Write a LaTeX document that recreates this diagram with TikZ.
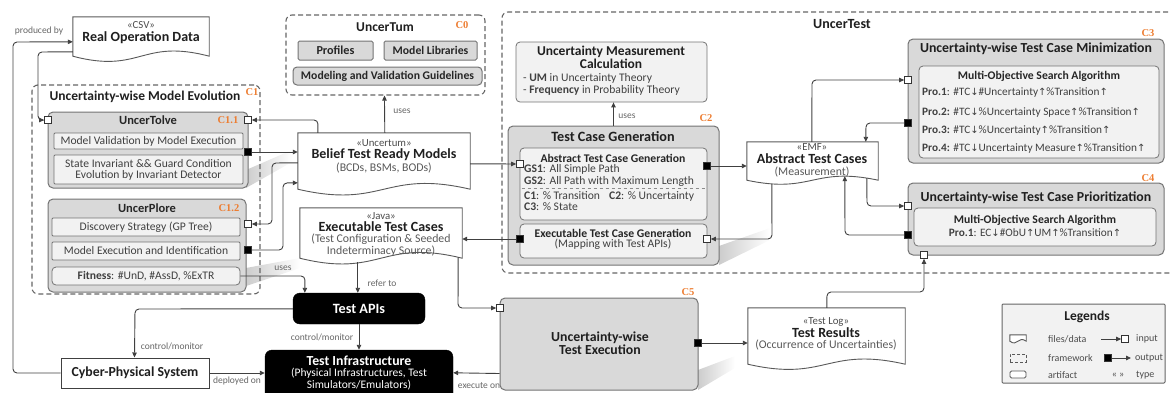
\documentclass[tikz,border=0pt]{standalone}
\usepackage{fontspec}
\setmainfont{Carlito}
\newfontfamily\arrowfont[Scale=0.88]{DejaVu Sans}
\newfontfamily\tagserif{Liberation Serif}
\usetikzlibrary{arrows.meta,calc,fit}

\definecolor{tagorange}{HTML}{ED7D31}
\newcommand\arrU{{\arrowfont ↑}}
\newcommand\arrD{{\arrowfont ↓}}
% document outline with a wavy bottom edge, drawn around a named node
\newcommand\drawdoc[2]{%
  \draw[docline] (#1.north west) -- (#1.north east) -- (#1.south east)
    .. controls ($(#1.south)+(0,-#2)$) and ($(#1.south)+(0,#2)$) .. (#1.south west) -- cycle;}

\tikzset{
  fw/.style={draw=black!60, dash pattern=on 5pt off 3pt, line width=1.1pt, rounded corners=6pt, inner sep=0pt},
  comp/.style={draw=black!55, fill=black!15, line width=1pt, rounded corners=5pt, inner sep=0pt},
  cellbox/.style={draw=black!55, fill=black!5, line width=0.8pt, inner sep=0pt, rounded corners=1pt},
  cellround/.style={cellbox, rounded corners=4pt},
  docnode/.style={inner sep=0pt},
  docline/.style={draw=black!65, fill=white, line width=0.9pt},
  artifact/.style={draw=black!75, fill=white, line width=1pt, inner sep=0pt},
  darkbox/.style={draw=black, fill=black, rounded corners=7pt, inner sep=0pt},
  inport/.style={draw=black!80, fill=white, minimum size=7pt, inner sep=0pt, line width=0.7pt},
  outport/.style={inport, fill=black},
  link/.style={draw=black!75, line width=0.9pt, rounded corners=4pt, -{Triangle[length=5pt,width=4.5pt]}},
  softshadow/.style={left color=black!20, right color=white, draw=none},
  headline/.style={font=\bfseries\fontsize{13.8}{14}\selectfont, text=black!88, inner sep=0pt},
  frametitle/.style={font=\bfseries\fontsize{14}{15}\selectfont, text=black!88, inner sep=0pt},
  doctitle/.style={font=\bfseries\fontsize{14}{15}\selectfont, text=black!88, inner sep=0pt},
  midtitle/.style={font=\bfseries\fontsize{11.7}{12}\selectfont, text=black!85, inner sep=0pt},
  celltext/.style={font=\fontsize{11.6}{11}\selectfont, text=black!75, inner sep=0pt, align=center},
  stereotype/.style={font=\fontsize{10.8}{11}\selectfont, text=black!70, inner sep=0pt},
  subtext/.style={font=\fontsize{11.8}{11.5}\selectfont, text=black!65, inner sep=0pt, align=center},
  edgelabel/.style={font=\fontsize{9.5}{10}\selectfont, text=black!60, inner sep=0pt},
  comptag/.style={font=\tagserif\bfseries\fontsize{10.5}{12}\selectfont, text=tagorange, inner sep=0pt},
  protext/.style={font=\fontsize{11.3}{11}\selectfont, text=black!75, inner sep=0pt, anchor=west},
  legtext/.style={font=\fontsize{10}{10}\selectfont, text=black!70, inner sep=0pt, anchor=west},
}

\begin{document}
\begin{tikzpicture}[x=1pt,y=-1pt]
\useasboundingbox (0,0) rectangle (1171,392);
\clip (0,0) rectangle (1171,392);

% ---------- soft slanted shadows behind component boxes ----------
\shade[softshadow] (246,170) -- (246,188) -- (292,162) -- (292,150) -- cycle;
\shade[softshadow] (246,268) -- (246,286) -- (300,268) -- (300,258) -- cycle;
\shade[softshadow] (719,246) -- (719,265) -- (770,240) -- (770,228) -- cycle;
\shade[softshadow] (698,370) -- (698,390) -- (735,368) -- (735,356) -- cycle;

% ---------- framework frames ----------
\node[fw, fit={(32,85) (260,294)}] (evo) {};
\node[fw, fit={(286,15) (485,95)}] (tum) {};
\node[fw, fit={(502,12) (1190,273)}] (utest) {};

% ---------- UncerTum (C0) ----------
\node[headline, font=\bfseries\fontsize{13.5}{14}\selectfont] (tumt) at (385,27) {UncerTum};
\node[comptag] (c0) at (462,25) {C0};
\node[comp, rounded corners=1.5pt, fit={(298,41) (373,60)}] (prof) {};
\node[midtitle, font=\bfseries\fontsize{12.2}{12}\selectfont] (proft) at (prof) {Profiles};
\node[comp, rounded corners=1.5pt, fit={(384,41) (477,60)}] (mlib) {};
\node[midtitle] (mlibt) at (mlib) {Model Libraries};
\node[comp, rounded corners=4pt, fit={(293,67) (482,85)}] (mvg) {};
\node[midtitle] (mvgt) at (mvg) {Modeling and Validation Guidelines};

% ---------- Uncertainty-wise Model Evolution (C1) ----------
\node[frametitle, font=\bfseries\fontsize{13.5}{14}\selectfont] (evot) at (145,97) {Uncertainty-wise Model Evolution};
\node[comptag] (c1) at (252,92) {C1};

\node[comp, fit={(48,112) (248,188)}] (tolve) {};
\node[midtitle, font=\bfseries\fontsize{12.5}{12}\selectfont] (tolvet) at (148,120) {UncerTolve};
\node[comptag] (c11) at (228,120) {C1.1};
\node[cellbox, fit={(54,133) (243,149)}] (mv) {};
\node[celltext] (mvt) at (mv) {Model Validation by Model Execution};
\node[cellbox, fit={(54,155) (243,184)}] (si) {};
\node[celltext] (sit) at (si) {State Invariant \&\& Guard Condition\\Evolution by Invariant Detector};

\node[comp, fit={(48,199) (246,292)}] (plore) {};
\node[midtitle, font=\bfseries\fontsize{12.5}{12}\selectfont] (ploret) at (147,208) {UncerPlore};
\node[comptag] (c12) at (229,208) {C1.2};
\node[cellbox, fit={(52,218) (240,236)}] (ds) {};
\node[celltext] (dst) at (ds) {Discovery Strategy (GP Tree)};
\node[cellbox, fit={(52,242) (240,260)}] (me) {};
\node[celltext] (met) at (me) {Model Execution and Identification};
\node[cellround, fit={(52,267) (240,285)}] (fitn) {};
\node[celltext] (fitnt) at (fitn) {\textbf{Fitness}: \#UnD, \#AssD, \%ExTR};

% ---------- documents ----------
\node[docnode, fit={(73,17) (209,56)}] (rod) {};
\drawdoc{rod}{18}
\node[stereotype] (rods) at (141,25) {«CSV»};
\node[doctitle] (rodt) at (141,38) {Real Operation Data};

\node[docnode, fit={(298,133) (470,189)}] (btrm) {};
\drawdoc{btrm}{20}
\node[stereotype] (btrms) at (384,143) {«Uncertum»};
\node[doctitle] (btrmt) at (384,155) {Belief Test Ready Models};
\node[subtext] (btrmsub) at (384,168) {(BCDs, BSMs, BODs)};

\node[docnode, fit={(300,208) (462,258)}] (etc) {};
\drawdoc{etc}{20}
\node[stereotype] (etcs) at (381,216) {«Java»};
\node[doctitle] (etct) at (381,227) {Executable Test Cases};
\node[subtext] (etcsub) at (381,245) {(Test Configuration \& Seeded\\Indeterminacy Source)};

\node[docnode, fit={(747,142) (878,180)}] (atc) {};
\drawdoc{atc}{14}
\node[stereotype] (atcs) at (812,147) {«EMF»};
\node[doctitle] (atct) at (812,159) {Abstract Test Cases};
\node[subtext] (atcsub) at (812,172) {(Measurement)};

\node[docnode, fit={(748,308) (905,364)}] (tr) {};
\drawdoc{tr}{18}
\node[stereotype] (trs) at (826,322) {«Test Log»};
\node[doctitle] (trt) at (826,333) {Test Results};
\node[subtext] (trsub) at (826,345) {(Occurrence of Uncertainties)};

% ---------- UncerTest ----------
\node[frametitle] (utestt) at (842,24) {UncerTest};

\node[cellbox, rounded corners=4pt, fit={(516,42) (707,102)}] (umc) {};
\node[headline, font=\bfseries\fontsize{13.5}{13}\selectfont] (umct1) at (611,52) {Uncertainty Measurement};
\node[headline, font=\bfseries\fontsize{13.5}{13}\selectfont] (umct2) at (611,64) {Calculation};
\node[celltext, anchor=west] (umc1) at (523,78) {- \textbf{UM} in Uncertainty Theory};
\node[celltext, anchor=west] (umc2) at (523,90) {- \textbf{Frequency} in Probability Theory};

\node[comp, fit={(508,126) (719,265)}] (tcg) {};
\node[headline, font=\bfseries\fontsize{14.2}{14}\selectfont] (tcgt) at (613,137) {Test Case Generation};
\node[comptag] (c2) at (706,118) {C2};
\node[cellround, fit={(520,148) (707,220)}] (atcg) {};
\node[midtitle] (atcgt) at (613,158) {Abstract Test Case Generation};
\node[celltext, anchor=west] (gs1) at (524,169) {\textbf{GS1}: All Simple Path};
\node[celltext, anchor=west] (gs2) at (524,181) {\textbf{GS2}: All Path with Maximum Length};
\draw[black!45, dashed, line width=0.6pt] ($(atcg.west)+(2,4)$) -- ($(atcg.east)+(-2,4)$);
\node[celltext, anchor=west] (cr1) at (524,196) {\textbf{C1}: \% Transition};
\node[celltext, anchor=west] (cr2) at (609,196) {\textbf{C2}: \% Uncertainty};
\node[celltext, anchor=west] (cr3) at (524,207) {\textbf{C3}: \% State};
\node[cellround, fit={(520,224) (707,258)}] (etcg) {};
\node[midtitle] (etcgt) at (613,233) {Executable Test Case Generation};
\node[celltext] (etcgsub) at (613,244) {(Mapping with Test APIs)};

\node[comp, fit={(908,39) (1164,163)}] (mini) {};
\node[headline] (minit) at (1036,49) {Uncertainty-wise Test Case Minimization};
\node[comptag] (c3) at (1148,33) {C3};
\node[cellround, fit={(919,66) (1159,158)}] (miniin) {};
\node[midtitle] (miniint) at (1039,76) {Multi-Objective Search Algorithm};
\node[protext] (p1) at (922,92) {\textbf{Pro.1}: \#TC\arrD\#Uncertainty\arrU\%Transition\arrU};
\node[protext] (p2) at (922,112) {\textbf{Pro.2:} \#TC\arrD\%Uncertainty Space\arrU\%Transition\arrU};
\node[protext] (p3) at (922,130) {\textbf{Pro.3:} \#TC\arrD\%Uncertainty\arrU\%Transition\arrU};
\node[protext] (p4) at (922,148) {\textbf{Pro.4:} \#TC\arrD Uncertainty Measure\arrU\%Transition\arrU};

\node[comp, fit={(908,183) (1164,255)}] (prio) {};
\node[headline] (priot) at (1036,198) {Uncertainty-wise Test Case Prioritization};
\node[comptag] (c4) at (1148,178) {C4};
\node[cellround, fit={(914,208) (1156,246)}] (prioin) {};
\node[midtitle] (prioint) at (1035,220) {Multi-Objective Search Algorithm};
\node[protext, anchor=center] (pp1) at (1035,233) {\textbf{Pro.1}: EC\arrD\#ObU\arrU UM\arrU\%Transition\arrU};

% ---------- execution side ----------
\node[comp, fit={(500,298) (698,390)}] (tex) {};
\node[headline, align=center, font=\bfseries\fontsize{13.8}{13}\selectfont] (text) at (600,343) {Uncertainty-wise\\Test Execution};
\node[comptag] (c5) at (688,292) {C5};

\node[darkbox, fit={(293,293) (425,324)}] (tapi) {};
\node[headline, text=white, font=\bfseries\fontsize{14.2}{14}\selectfont] (tapit) at (tapi) {Test APIs};
\node[darkbox, fit={(265,350) (453,400)}] (ti) {};
\node[headline, text=white] (tit) at (359,361) {Test Infrastructure};
\node[subtext, text=white, font=\fontsize{11.5}{12}\selectfont] (tisub) at (359,379) {(Physical Infrastructures, Test\\Simulators/Emulators)};

\node[artifact, fit={(61,358) (209,388)}] (cps) {};
\node[headline] (cpst) at (cps) {Cyber-Physical System};

% ---------- ports ----------
\node[inport] (tolveinL) at (48,120) {};
\node[inport] (tolveinR) at (248,120) {};
\node[outport] (tolveout) at (248,152) {};
\node[inport] (plorein) at (248,224) {};
\node[outport] (ploreout) at (248,250) {};
\node[inport] (tcgin) at (520,164) {};
\node[outport] (atcgout) at (707,166) {};
\node[outport] (etcgout) at (520,239) {};
\node[inport] (etcgin) at (707,239) {};
\node[inport] (miniinp) at (908,80) {};
\node[outport] (miniout) at (908,123) {};
\node[inport] (prioinp) at (908,206) {};
\node[outport] (prioout) at (908,235) {};
\node[inport] (priobot) at (924,255) {};
\node[inport] (texin) at (500,308) {};
\node[outport] (texout) at (698,343) {};

% ---------- connectors ----------
\draw[link] (cps.west) -- (13,373) -- (13,42) -- ($(rod.north west)+(0,25)$);
\node[edgelabel] (lprod) at (39,31) {produced by};
\draw[link] ($(rod.north west)+(0,35)$) -- (38,52) -- (38,120) -- (tolveinL);
\draw[link] ($(btrm.north west)+(20,0)$) -- (318,120) -- (tolveinR);
\draw[link] (tolveout) -- (tolveout -| btrm.west);
\draw[link] ($(btrm.north west)+(0,30)$) -- (272,163) -- (272,224) -- (plorein);
\draw[link] (ploreout) -- (283,250) -- (283,183) -- ($(btrm.north west)+(0,50)$);
\draw[link] (fitn.east) -- (305,276) -- ($(tapi.north west)+(12,0)$);
\node[edgelabel] (luses1) at (283,268) {uses};
\draw[link] ($(btrm.north west)+(87,0)$) -- ($(tum.south west)+(99,0)$);
\node[edgelabel] (luses2) at (402,111) {uses};
\draw[link] ($(btrm.north east)+(0,31)$) -- (tcgin);
\draw[link] (atcgout) -- (atcgout -| atc.west);
\draw[link] (etcgout) -- (etcgout -| etc.east);
\draw[link] ($(atc.south west)+(25,4)$) -- (772,239) -- (etcgin);
\draw[link] (tcg.north) -- (tcg.north |- umc.south);
\node[edgelabel] (luses3) at (627,116) {uses};
\draw[link] ($(atc.north west)+(65,0)$) -- (812,80) -- (miniinp);
\draw[link] (miniout) -- (866,123) -- ($(atc.north west)+(119,0)$);
\draw[link] ($(atc.south west)+(120,-2)$) -- (867,206) -- (prioinp);
\draw[link] (prioout) -- (845,235) -- ($(atc.south west)+(98,-4)$);
\draw[link] ($(tr.north west)+(79,0)$) -- (827,292) -- (924,292) -- (priobot);
\draw[link] (texout) -- (texout -| tr.west);
\draw[link] ($(etc.south east)+(-4,-1)$) -- (458,308) -- (texin);
\draw[link] ($(etc.south west)+(58,4)$) -- ($(tapi.north west)+(65,0)$);
\node[edgelabel] (lrefer) at (382,283) {refer to};
\draw[link] ($(tapi.north west)+(0,16)$) -- (135,309) -- ($(cps.north west)+(74,0)$);
\node[edgelabel] (lcm1) at (172,346) {control/monitor};
\draw[link] (tapi.south) -- (tapi.south |- ti.north);
\node[edgelabel] (lcm2) at (322,337) {control/monitor};
\draw[link] (cps.east) -- (cps.east -| ti.west);
\node[edgelabel] (ldep) at (237,381) {deployed on};
\draw[link] ($(tex.south west)+(0,-17)$) -- ($(ti.north east)+(0,23)$);
\node[edgelabel] (lexec) at (479,386) {execute on};

% ---------- legend ----------
\node[cellbox, draw=black!60, line width=1pt, fit={(1002,304) (1165,383)}] (leg) {};
\node[headline, font=\bfseries\fontsize{13.5}{14}\selectfont] (legt) at (1087,317) {Legends};
\node[docnode, fit={(1010,335) (1026,341)}] (legdoc) {};
\drawdoc{legdoc}{6}
\node[legtext] (legdoct) at (1048,339) {files/data};
\node[draw=black!65, dashed, dash pattern=on 3pt off 2pt, line width=0.8pt, inner sep=0pt, fit={(1010,354) (1026,362)}] (legfw) {};
\node[legtext] (legfwt) at (1048,358) {framework};
\node[draw=black!65, fill=white, rounded corners=1.5pt, line width=0.8pt, inner sep=0pt, fit={(1010,371) (1026,378)}] (legart) {};
\node[legtext] (legartt) at (1048,375) {artifact};
\coordinate (leginstart) at (1101,339);
\node[inport] (legin) at (1125,339) {};
\draw[link] (leginstart) -- (legin);
\node[legtext] (legint) at (1136,339) {input};
\node[outport] (legout) at (1108,358) {};
\coordinate (legoutend) at (1131,358);
\draw[link] (legout) -- (legoutend);
\node[legtext] (legoutt) at (1135,358) {output};
\node[legtext, anchor=center] (legtype) at (1118,375) {« »};
\node[legtext] (legtypet) at (1136,375) {type};
\end{tikzpicture}
\end{document}
